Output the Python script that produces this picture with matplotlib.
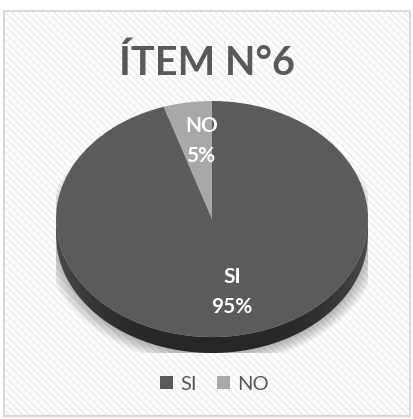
import numpy as np
import matplotlib
matplotlib.use('Agg')
import matplotlib.pyplot as plt
from matplotlib.patches import Rectangle, Ellipse, Polygon
from matplotlib.colors import LinearSegmentedColormap

title = 'ÍTEM N°6'
labels = ['SI', 'NO']
values = [95, 5]
colors = ['#5b5b5b', '#a8a8a8']

plt.rcParams['font.family'] = ['Lato', 'DejaVu Sans']

W, H = 414, 419
fig = plt.figure(figsize=(W / 100, H / 100), dpi=100)
fig.patch.set_facecolor('white')

# background axes in pixel coords
bg = fig.add_axes([0, 0, 1, 1])
bg.set_xlim(0, W)
bg.set_ylim(H, 0)
bg.axis('off')

# faint diagonal stripes inside the frame
frame = Rectangle((4, 11), 406, 405, facecolor='white', edgecolor='none', zorder=0)
bg.add_patch(frame)
for x0 in np.arange(-420, 420, 7):
    ln, = bg.plot([x0, x0 + 430], [0, 430], color='#f0f0f0', lw=1.3, zorder=1,
                  solid_capstyle='butt')
    ln.set_clip_path(frame)
bg.add_patch(Rectangle((4, 11), 406, 405, facecolor='none', edgecolor='#d9d9d9',
                       lw=1.5, zorder=2))

bg.text(W / 2, 75, title, ha='center', va='baseline', fontsize=28.5,
        fontweight='bold', color='#595959', zorder=3)

# pie axes
d = 0.135
ax = fig.add_axes([56 / W, 1 - 353 / H, 312 / W, 252 / H])
ax.set_zorder(5)
ax.patch.set_alpha(0)

# soft shadow
for k in range(8):
    s = 1.0 + 0.012 * k
    ax.add_patch(Ellipse((0, -d - 0.02), 2 * s, 2 * s, facecolor='black',
                         alpha=0.035, edgecolor='none', zorder=0))

# side of the pie
xs = np.linspace(-1, 1, 300)
top = -np.sqrt(1 - xs ** 2)
poly = np.vstack([np.column_stack([xs, top]),
                  np.column_stack([xs[::-1], (top - d)[::-1]])])
band = Polygon(poly, closed=True, facecolor='none', edgecolor='none')
ax.add_patch(band)
grad = np.abs(np.linspace(-1, 1, 200)) ** 3
grad = np.tile(grad, (10, 1))
cm = LinearSegmentedColormap.from_list('s', ['#262626', '#4a4a4a'])
im = ax.imshow(grad, extent=[-1, 1, -1 - d, 0], cmap=cm,
               aspect='auto', zorder=1, origin='lower')
im.set_clip_path(band)

wedges, _ = ax.pie(values, colors=colors, startangle=90, counterclock=False,
                   radius=1, wedgeprops=dict(linewidth=0))
for w in wedges:
    w.set_zorder(2)
ax.set_aspect('auto')
ax.set_xlim(-1, 1)
ax.set_ylim(-1 - d, 1)
ax.axis('off')

# slice labels (drawn in the pie axes, placed in pixel coords)
lbl = dict(ha='center', va='baseline', fontsize=15, fontweight='bold',
           color='white', zorder=6, transform=bg.transData)
ax.text(202, 132, labels[1], **lbl)
ax.text(201, 162, f'{values[1]}%', **lbl)
ax.text(232, 283, labels[0], **lbl)
ax.text(232, 313, f'{values[0]}%', **lbl)

leg = bg.legend(wedges, labels, loc='center', bbox_to_anchor=(0.518, 1 - 384 / H),
                ncol=2, frameon=False, fontsize=14.5, handlelength=0.65,
                handleheight=0.65, handletextpad=0.35, columnspacing=1.0)
for t in leg.get_texts():
    t.set_color('#595959')

fig.savefig('out.png', dpi=100, facecolor='white')
